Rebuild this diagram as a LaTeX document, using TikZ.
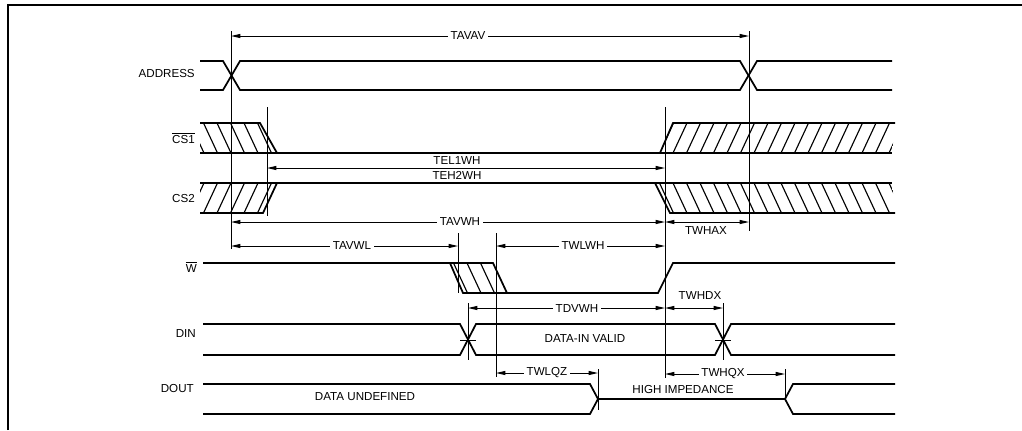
\documentclass[tikz,border=0pt]{standalone}
\usepackage{fontspec}
\setmainfont{Liberation Sans}
\usetikzlibrary{arrows.meta}

\begin{document}
\begin{tikzpicture}[x=0.75pt,y=0.75pt,yscale=-1,xscale=1,
  sig/.style={line width=1.3pt},
  refl/.style={line width=0.75pt},
  hatch/.style={line width=0.85pt},
  dim/.style={line width=0.75pt,{Triangle[length=7pt,width=3pt]}-{Triangle[length=7pt,width=3pt]}},
  lbl/.style={fill=white,inner sep=2pt,font=\fontsize{8.7}{10}\selectfont},
  txt/.style={inner sep=0.75pt,font=\fontsize{8.7}{10}\selectfont},
  sname/.style={anchor=east,inner sep=0pt,font=\fontsize{8.7}{10}\selectfont}]
\useasboundingbox (0,0) rectangle (1022,430);

%Frame
\draw[line width=1.2pt] (8,430) -- (8,5) -- (1022,5);

%Reference edges
\coordinate (xa) at (231,0);
\coordinate (xe) at (267,0);
\coordinate (xwl) at (458,0);
\coordinate (xdv) at (468,0);
\coordinate (xwe) at (496,0);
\coordinate (xqz) at (598,0);
\coordinate (xwh) at (665,0);
\coordinate (xdx) at (723,0);
\coordinate (xah) at (749,0);
\coordinate (xqx) at (785,0);

%Vertical lines
\draw[refl] (xa |- 0,31) -- (xa |- 0,249);
\draw[refl] (xe |- 0,107) -- (xe |- 0,216);
\draw[refl] (xwl |- 0,233) -- (xwl |- 0,293);
\draw[refl] (xwe |- 0,233) -- (xwe |- 0,377);
\draw[refl] (xdv |- 0,303) -- (xdv |- 0,360);
\draw[refl] (xqz |- 0,369) -- (xqz |- 0,410);
\draw[refl] (xwh |- 0,107) -- (xwh |- 0,378);
\draw[refl] (xdx |- 0,303) -- (xdx |- 0,360);
\draw[refl] (xah |- 0,31) -- (xah |- 0,231);
\draw[refl] (xqx |- 0,369) -- (xqx |- 0,400);

%ADDRESS
\draw[sig] (200,61) -- (223,61) -- (240,90) -- (740,90) -- (757,61) -- (892,61);
\draw[sig] (200,90) -- (223,90) -- (240,61) -- (740,61) -- (757,90) -- (892,90);

%CS1 hatch
\begin{scope}
\clip (200,123) -- (260,123) -- (277,153) -- (200,153) -- cycle;
\foreach \i in {0,...,7} \draw[hatch] (190+13.5*\i,123) -- (204+13.5*\i,153);
\end{scope}
\begin{scope}
\clip (660,153) -- (673,123) -- (895,123) -- (892,153) -- cycle;
\foreach \i in {0,...,19} \draw[hatch] (646+13.5*\i,153) -- (660+13.5*\i,123);
\end{scope}
\draw[sig] (200,123) -- (260,123) -- (277,153);
\draw[sig] (200,153) -- (892,153);
\draw[sig] (660,153) -- (673,123) -- (895,123);

%CS2 hatch
\begin{scope}
\clip (200,183) -- (277,183) -- (263,213) -- (200,213) -- cycle;
\foreach \i in {0,...,7} \draw[hatch] (190+13.5*\i,213) -- (204+13.5*\i,183);
\end{scope}
\begin{scope}
\clip (655,183) -- (892,183) -- (895,213) -- (670,213) -- cycle;
\foreach \i in {0,...,19} \draw[hatch] (646+13.5*\i,183) -- (660+13.5*\i,213);
\end{scope}
\draw[sig] (200,183) -- (892,183);
\draw[sig] (200,213) -- (263,213) -- (277,183);
\draw[sig] (655,183) -- (670,213) -- (895,213);

%W
\begin{scope}
\clip (450,263) -- (493,263) -- (507,293) -- (463,293) -- cycle;
\foreach \i in {0,...,5} \draw[hatch] (440+13.5*\i,263) -- (454+13.5*\i,293);
\end{scope}
\draw[sig] (203,263) -- (450,263) -- (463,293) -- (658,293) -- (673,263) -- (895,263);
\draw[sig] (450,263) -- (493,263) -- (507,293);

%DIN
\draw[sig] (203,324) -- (460,324) -- (476,355) -- (715,355) -- (731,324) -- (895,324);
\draw[sig] (203,355) -- (460,355) -- (476,324) -- (715,324) -- (731,355) -- (895,355);
\draw[refl] (460,340) -- (476,340);
\draw[refl] (715,340) -- (731,340);

%DOUT
\draw[sig] (203,384) -- (590,384) -- (598,399) -- (785,399) -- (793,384) -- (895,384);
\draw[sig] (203,414) -- (590,414) -- (598,399);
\draw[sig] (785,399) -- (793,414) -- (895,414);

%Timing arrows
\draw[dim] (xa |- 0,36) -- (xah |- 0,36);
\draw[dim] (xe |- 0,168) -- (xwh |- 0,168);
\draw[dim] (xa |- 0,222) -- (xwh |- 0,222);
\draw[dim] (xwh |- 0,222) -- (xah |- 0,222);
\draw[dim] (xa |- 0,246) -- (xwl |- 0,246);
\draw[dim] (xwe |- 0,246) -- (xwh |- 0,246);
\draw[dim] (xdv |- 0,308) -- (xwh |- 0,308);
\draw[dim] (xwh |- 0,308) -- (xdx |- 0,308);
\draw[dim] (xwe |- 0,373) -- (xqz |- 0,373);
\draw[dim] (xwh |- 0,374) -- (xqx |- 0,374);

% Text Node
\node[lbl] (tavav) at (468,36) {TAVAV};
\node[txt,anchor=south] (tel1wh) at (457,166) {TEL1WH};
\node[txt,anchor=north] (teh2wh) at (457,170) {TEH2WH};
\node[lbl] (tavwh) at (460,222) {TAVWH};
\node[txt,anchor=north] (twhax) at (706,225) {TWHAX};
\node[lbl] (tavwl) at (352,246) {TAVWL};
\node[lbl] (twlwh) at (583,246) {TWLWH};
\node[lbl] (tdvwh) at (577,308) {TDVWH};
\node[txt,anchor=south] (twhdx) at (700,301) {TWHDX};
\node[lbl] (twlqz) at (547,373) {TWLQZ};
\node[lbl] (twhqx) at (723,374) {TWHQX};
\node[txt] (dinvalid) at (585,339) {DATA-IN VALID};
\node[txt] (doutundef) at (365,397) {DATA UNDEFINED};
\node[txt] (hiz) at (683,389) {HIGH IMPEDANCE};

% Signal names
\node[sname] (naddr) at (195,73) {ADDRESS};
\node[sname] (ncs1) at (195,138) {$\overline{\mbox{CS1}}$};
\node[sname] (ncs2) at (195,198) {CS2};
\node[sname] (nw) at (197,267) {$\overline{\mbox{W}}$};
\node[sname] (ndin) at (196,333) {DIN};
\node[sname] (ndout) at (194,388) {DOUT};

\end{tikzpicture}
\end{document}
